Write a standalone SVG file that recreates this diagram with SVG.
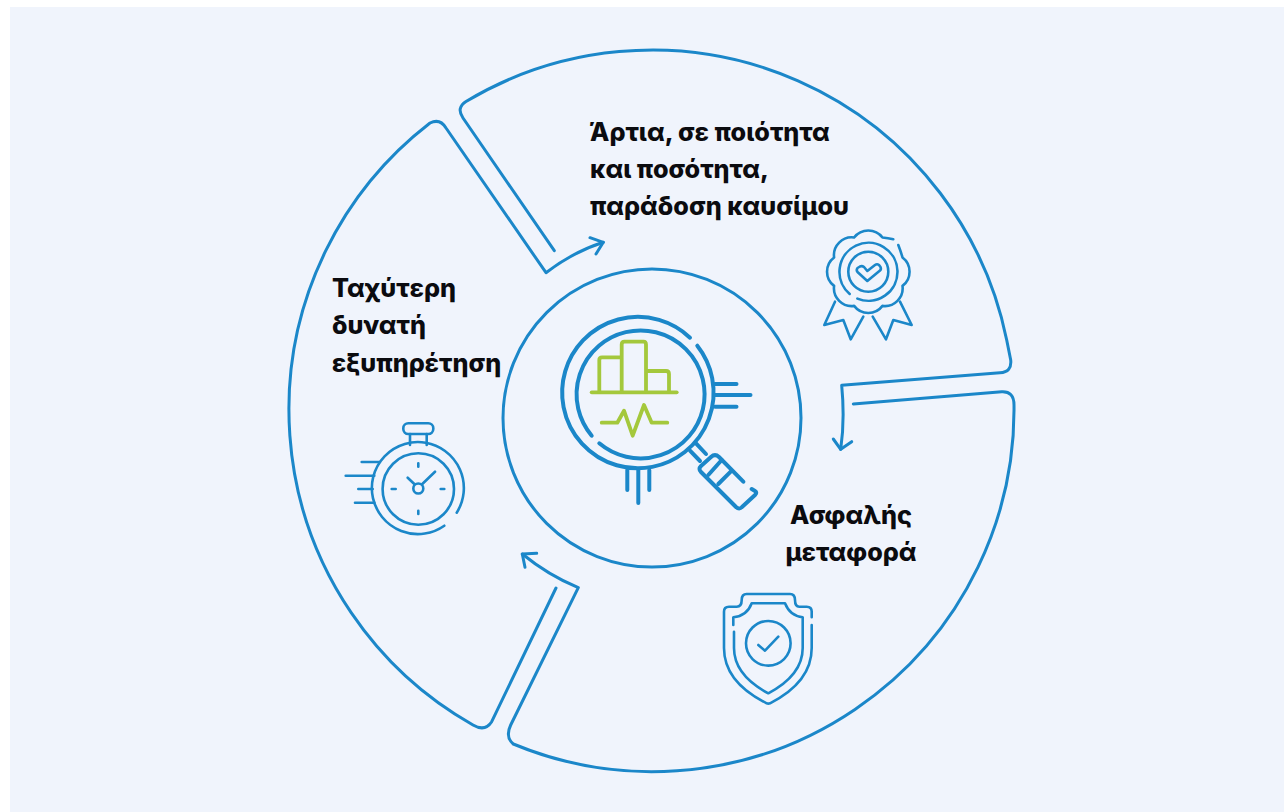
<svg xmlns="http://www.w3.org/2000/svg" width="1284" height="812" viewBox="0 0 1284 812">
<style>
.l{fill:none;stroke:#1b87c9;stroke-width:3;stroke-linecap:round;stroke-linejoin:round}
.i{fill:none;stroke:#1b87c9;stroke-width:2.6;stroke-linecap:round;stroke-linejoin:round}
.m{fill:none;stroke:#1b87c9;stroke-width:4;stroke-linecap:round;stroke-linejoin:round}
.g{fill:none;stroke:#a4c83c;stroke-width:3.8;stroke-linecap:round;stroke-linejoin:round}
.t{font-family:"Inter","Liberation Sans",sans-serif;font-weight:800;font-size:25.2px;fill:#0b0b0f}
</style>
<rect width="1284" height="812" fill="#fff"/>
<rect x="10" y="7" width="1274" height="805" fill="#f0f4fc"/>
<g id="connectors">
<path class="l" d="M554.300 250.700L463 118Q456 108 466 101.500A362 362 0 0 1 1006.700 340L1010.700 360Q1012 372 1000 372.700L841.700 385.300Q845 420 840.700 449.300"/>
<path class="l" d="M833.300 439L840.700 449.300L851.700 441.700"/>
<path class="l" d="M853.300 404L1001.700 391.700Q1014 391 1014 405A362 362 0 0 1 513.300 744Q505 737 510.700 725L578.300 587.700Q548 575 522.300 554"/>
<path class="l" d="M536.700 553.300L522.300 554L525 567.300"/>
<path class="l" d="M556 588L491.700 721.700Q485 732 473 725A362 362 0 0 1 430 123Q440 118 446 128L546 272.700Q573 252 603.300 242.300"/>
<path class="l" d="M590 237.700L603.300 242.300L596 254"/>
</g>
<g id="center">
<circle class="l" cx="652" cy="418" r="149"/>
<path class="m" d="M690 337.700A75.700 75.700 0 1 0 697.300 345.700"/>
<path class="m" d="M599.300 443.300A64 64 0 1 0 591.700 435.700"/>
<path class="m" d="M715 384H736.500M715 395H750.500M715 406.700H736.500M627.300 470V490M638.300 470V503M649.300 470V490"/>
<path class="m" d="M696 443.300L706 454M690 450.700L700 461"/>
<path class="m" d="M743.300 481.700L719 457Q715 453.300 711 457L701 466Q698 469 701 472L736 507Q739.300 510 742 507L755 495Q757.500 492.500 755 491L751.700 489"/>
<path class="m" d="M721.700 460L708.300 475M730.700 471.700L718.300 484"/>
<path class="g" d="M591.700 392.300H676.700"/>
<path class="g" d="M599.300 392V360Q599.300 357.300 602 357.300H621.700M621.700 392V344.500Q621.700 341.700 624.500 341.700H643.500Q646 341.700 646 344.500V392M646 371H666Q669 371 669 374V392"/>
<path class="g" d="M601.700 422.700H617.300L624 410.700L632.700 435.700L644 405L651.700 422.700H667.300"/>
</g>
<g id="quality">
<text class="t" x="590" y="141">Άρτια, σε ποιότητα</text>
<text class="t" x="590" y="178">και ποσότητα,</text>
<text class="t" x="590" y="215">παράδοση καυσίμου</text>
<path class="i" d="M898.300 245Q901 252 902.500 257.500A17.800 17.800 0 0 1 902.500 285.900A17.800 17.800 0 0 1 882.500 305.900A17.800 17.800 0 0 1 854.100 305.900A17.800 17.800 0 0 1 834.100 285.900A17.800 17.800 0 0 1 834.100 257.500A17.800 17.800 0 0 1 854.100 237.500A17.800 17.800 0 0 1 882.500 237.500Q888 238 893.300 239.300"/>
<path class="i" d="M849.700 293.900A29 29 0 1 1 857.400 298.600"/>
<circle class="i" cx="868.300" cy="271.700" r="20"/>
<path class="i" d="M867.300 281L857.500 272Q856 270 857.500 268L860 266.500Q862 265.500 864 267L867.300 271L875 265Q877 263.500 879 265L880.500 267Q881.500 269 880 270.500Z"/>
<path class="i" d="M835 301.700L824.300 325L843.300 320L850.700 339.300L863.300 316.700M872.700 316.700L886 339.300L893.300 320L911.700 325L900 301.700"/>
</g>
<g id="transfer">
<text class="t" x="851" y="524" text-anchor="middle">Ασφαλής</text>
<text class="t" x="851" y="561" text-anchor="middle">μεταφορά</text>
<path class="i" d="M811.700 617.300V611.500Q811.700 606.700 806.700 606.700H799.300Q795 606.700 795 600Q795 594 790 594H746.700Q741.700 594 741.700 600Q741.700 606.700 736.700 606.700H729Q724 606.700 724 611.700V648Q724 682 766.700 703.300Q768.300 704 770 703.300Q811.700 682 811.700 648V625"/>
<path class="i" d="M733.300 625V617.300Q747 616 751.700 603.300H785Q790 616 802.700 617.300V648Q802.700 675 768.300 693.300Q734 675 734 648V631.700"/>
<circle class="i" cx="768.300" cy="643.300" r="22.300"/>
<path class="i" d="M758.300 645L765 650.700L778.300 636.700"/>
</g>
<g id="speed">
<text class="t" x="332" y="297">Ταχύτερη</text>
<text class="t" x="332" y="334">δυνατή</text>
<text class="t" x="332" y="372">εξυπηρέτηση</text>
<path class="i" d="M444.300 525.700A46 46 0 1 1 456.700 512.700"/>
<circle class="i" cx="418.300" cy="489" r="35.700"/>
<circle class="i" cx="418.300" cy="488.500" r="5"/>
<path class="i" d="M414.300 484L407.700 477.700M422.300 484L435 471.700M418.300 463.300V466.700M418.300 510.700V514M391.700 489H395.700M440.700 489H444.300"/>
<rect class="i" x="403.300" y="423.300" width="30" height="10.700" rx="5"/>
<path class="i" d="M410 434V445M426.700 434V445"/>
<path class="i" d="M361.700 462H380M345.700 475.700H374.300M358.300 489H372.700M355 502.700H374.300"/>
</g>
</svg>
